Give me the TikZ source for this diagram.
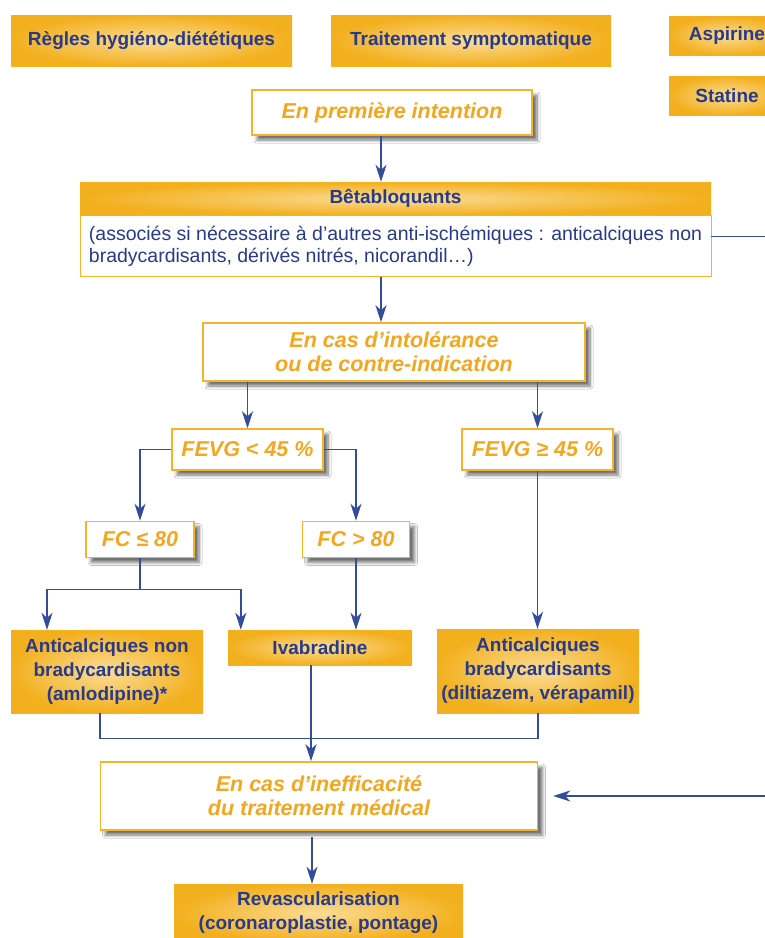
\documentclass[tikz,border=0pt]{standalone}
\usepackage{fontspec}
\setmainfont{Liberation Sans}
\usetikzlibrary{arrows.meta,shadows.blur}
\definecolor{orfill}{RGB}{243,176,30}
\definecolor{orlight}{RGB}{250,220,150}
\definecolor{orline}{RGB}{246,178,40}
\definecolor{ortext}{RGB}{244,166,30}
\definecolor{navy}{RGB}{40,58,138}
\definecolor{linkblue}{RGB}{52,76,156}

\begin{document}
\begin{tikzpicture}[x=1pt,y=-1pt,
  orbox/.style={shading=radial,inner color=orlight,outer color=orfill,text=navy,align=center,inner sep=0pt,font=\fontsize{19}{24}\selectfont\bfseries},
  whitebox/.style={draw=orline,line width=1.5pt,fill=white,text=ortext,align=center,inner sep=0pt,font=\fontsize{21.5}{24}\selectfont\bfseries\itshape,blur shadow={shadow xshift=5pt,shadow yshift=-5pt,shadow blur steps=6,shadow blur radius=3pt,shadow opacity=55}},
  link/.style={draw=linkblue,line width=1.4pt},
  arr/.style={link,-{Stealth[length=17pt,width=11pt,inset=5pt]}}]
\clip (0,0) rectangle (765,938);
\fill[white] (0,0) rectangle (765,938);

\node[orbox,minimum width=281pt,minimum height=51pt] (hyg) at (151.5,40.5) {Règles hygiéno-diététiques};
\node[orbox,minimum width=280pt,minimum height=51pt] (sympt) at (471,40.5) {Traitement symptomatique};
\node[orbox,minimum width=116pt,minimum height=39pt] (asp) at (727,35.5) {Aspirine};
\node[orbox,minimum width=116pt,minimum height=39pt] (stat) at (727,95.5) {Statine};
\node[whitebox,minimum width=280pt,minimum height=45pt] (first) at (392,112.5) {En première intention};
\node[orbox,minimum width=631pt,minimum height=33pt] (beta) at (395.5,198.5) {Bêtabloquants};
\node[draw=orline,line width=0.8pt,fill=white,text=navy,font=\fontsize{19.5}{22}\selectfont,align=left,inner sep=0pt,minimum width=631pt,minimum height=61pt,anchor=north] (assoc) at (beta.south) {(associés si nécessaire à d’autres anti-ischémiques : anticalciques non\\bradycardisants, dérivés nitrés, nicorandil…)};
\node[whitebox,minimum width=382pt,minimum height=58pt] (intol) at (394,352) {En cas d’intolérance\\ou de contre-indication};
\node[whitebox,minimum width=151pt,minimum height=41pt] (low) at (247.5,449.5) {FEVG < 45 \%};
\node[whitebox,minimum width=151pt,minimum height=41pt] (high) at (537.5,449.5) {FEVG ≥ 45 \%};
\node[whitebox,minimum width=108pt,minimum height=36pt] (fclow) at (140,539.5) {FC ≤ 80};
\node[whitebox,minimum width=107pt,minimum height=36pt] (fchigh) at (356,539.5) {FC > 80};
\node[orbox,minimum width=192pt,minimum height=83pt] (nonbrady) at (107,671.5) {Anticalciques non\\bradycardisants\\(amlodipine)*};
\node[orbox,minimum width=184pt,minimum height=35pt] (ivab) at (320,647.5) {Ivabradine};
\node[orbox,minimum width=202pt,minimum height=84pt] (brady) at (538,671) {Anticalciques\\bradycardisants\\(diltiazem, vérapamil)};
\node[whitebox,minimum width=437pt,minimum height=68pt] (ineff) at (319,796) {En cas d’inefficacité\\du traitement médical};
\node[orbox,minimum width=289pt,minimum height=58pt] (revasc) at (318.5,913) {Revascularisation\\(coronaroplastie, pontage)};

\coordinate (axis) at (381,0);
\draw[arr] (first.south -| axis) -- (beta.north -| axis);
\draw[arr] (assoc.south -| axis) -- (intol.north -| axis);
\draw[arr] (intol.south -| low) -- (low.north);
\draw[arr] (intol.south -| high) -- (high.north);
\draw[arr] (low.west) -| (fclow.north);
\draw[arr] (low.east) -| (fchigh.north);
\draw[arr] (fclow.south) -- ++(0,31) -| ([xshift=-60pt]nonbrady.north);
\draw[arr] (fclow.south) -- ++(0,31) -| ([xshift=13pt]ivab.north west);
\draw[arr] (fchigh.south) -- (fchigh.south |- ivab.north);
\draw[arr] (high.south) -- (high.south |- brady.north);
\draw[link] ([xshift=-7pt]nonbrady.south) -- ++(0,25) -| (brady.south);
\draw[arr] ([xshift=-9pt]ivab.south) -- ([xshift=-9pt]ivab.south |- ineff.north);
\draw[arr] ([yshift=9.5pt]assoc.east) -- ++(70,0) |- ([xshift=15pt]ineff.east);
\draw[arr] ([xshift=-7pt,yshift=-6pt]ineff.south) -- ([xshift=-7pt]ineff.south |- revasc.north);
\end{tikzpicture}
\end{document}
